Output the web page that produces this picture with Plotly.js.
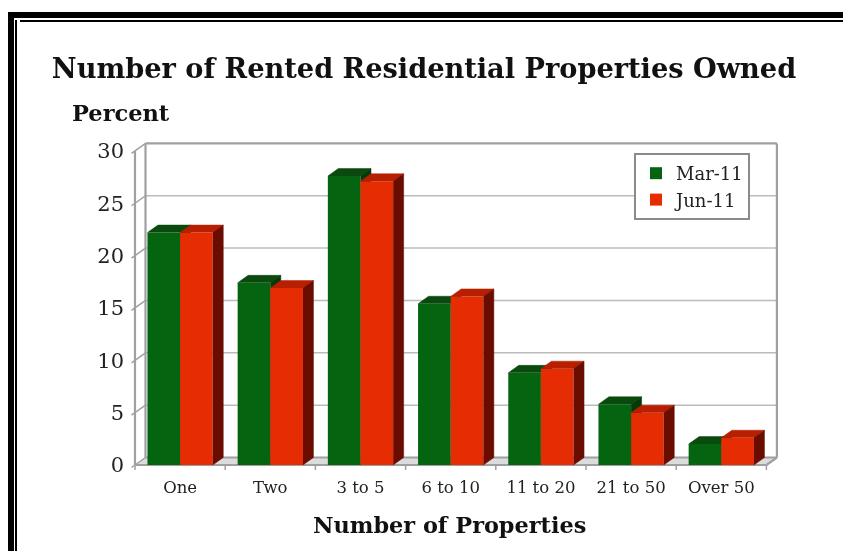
<!DOCTYPE html>
<html><head><meta charset="utf-8">
<script src="https://cdn.plot.ly/plotly-3.0.0.min.js"></script>
<style>
html,body{margin:0;padding:0;background:#fff;width:843px;height:551px;overflow:hidden}
#wrap{position:relative;width:843px;height:551px;filter:blur(0.5px)}
.f{position:absolute;background:#000}
#chart{position:absolute;left:0;top:0;width:843px;height:551px}
</style></head><body>
<div id="wrap">
<div class="f" style="left:8px;top:12px;width:835px;height:6px"></div>
<div class="f" style="left:20px;top:20px;width:823px;height:2px"></div>
<div class="f" style="left:8px;top:12px;width:6px;height:539px"></div>
<div class="f" style="left:15px;top:20px;width:2px;height:531px"></div>
<div id="chart"></div>
</div>
<script>
// Data
const categories = ["One","Two","3 to 5","6 to 10","11 to 20","21 to 50","Over 50"];
const mar11 = [22.2,17.4,27.6,15.4,8.8,5.8,2.0];
const jun11 = [22.2,16.9,27.1,16.1,9.2,5.0,2.6];
const yTicks = [0,5,10,15,20,25,30];
const idx = categories.map((_,i)=>i);

// Style / 3D projection constants
const W = 843, H = 551;
const FRONT_L = 135, FRONT_B = 465;       // page position of the front axes corner
const L = 131, R = 781, T = 140, B = 472; // plot box, with slack so that edges are not clipped
const catPx = 90.2, unitPx = 10.47;
const DX = 10.5/catPx, DY = 7.5/unitPx;
const BW = 0.362;
const xRange = [-0.5-(FRONT_L-L)/catPx, -0.5+(R-FRONT_L)/catPx];
const yRange = [-(B-FRONT_B)/unitPx, (FRONT_B-T)/unitPx];
const GRID = "#bcbcbc", WALL = "#a0a0a0";
const X0 = -0.5, X1 = 6.5;
const TX = 3.5/catPx, TY = 2.5/unitPx, TK = 5/unitPx;

function poly(rows){
  const x=[],y=[];
  rows.forEach(r=>{ r.forEach(p=>{x.push(p[0]);y.push(p[1]);}); x.push(null);y.push(null); });
  return {x,y};
}
function face(rows,color,xa,ya){
  const p=poly(rows);
  return {type:"scatter",mode:"lines",x:p.x,y:p.y,fill:"toself",fillcolor:color,
    line:{color:color,width:0.5},showlegend:false,hoverinfo:"skip",xaxis:xa,yaxis:ya};
}
function lines(segs,color,width){
  const x=[],y=[];
  segs.forEach(s=>{x.push(s[0][0],s[1][0],null);y.push(s[0][1],s[1][1],null);});
  return {type:"scatter",mode:"lines",x,y,line:{color,width},showlegend:false,hoverinfo:"skip"};
}
function series(name,vals,off,front,top,side,xa,ya){
  const tops=vals.map((v,i)=>{const a=i+off,b=a+BW;return [[a,v],[a+DX,v+DY],[b+DX,v+DY],[b,v]];});
  const sides=vals.map((v,i)=>{const b=i+off+BW;return [[b,0],[b+DX,DY],[b+DX,v+DY],[b,v]];});
  return [
    {type:"bar",name,x:idx,y:vals,width:BW,offset:off,marker:{color:front,line:{width:0}},xaxis:xa,yaxis:ya,
     hovertemplate:name+": %{y}<extra></extra>"},
    face(tops,top,xa,ya),
    face(sides,side,xa,ya)
  ];
}

const backX0 = X0+DX, backX1 = X1+DX;
const yMax = yTicks[yTicks.length-1];
const xBounds = categories.map((_,i)=>i-0.5).concat([X1]);
const traces = [
  face([[[X0,0],[backX0,DY],[backX1,DY],[X1,0]]],"#dcdcdc","x","y"),
  lines(yTicks.slice(1,-1).map(t=>[[backX0,t+DY],[backX1,t+DY]]),GRID,1.5),
  lines(yTicks.map(t=>[[X0-TX,t-TY],[backX0,t+DY]]),WALL,1.5),
  lines(xBounds.map(b=>[[b,0],[b,-TK]]),WALL,1.5),
  lines([
    [[backX0,DY],[backX0,yMax+DY]],
    [[backX0,yMax+DY],[backX1,yMax+DY]],
    [[backX1,yMax+DY],[backX1,DY]],
    [[backX0,DY],[backX1,DY]],
    [[X0,0],[X1,0]],
    [[X1,0],[backX1,DY]],
    [[X0,0],[X0,yMax]]
  ],WALL,2.2),
  ...series("Mar-11",mar11,-BW,"#05640f","#0b4a0e","#033a08","x2","y2"),
  ...series("Jun-11",jun11,0,"#e62c02","#b81f00","#6b0c00","x3","y3")
];

const serif = "'DejaVu Serif', serif";
const pw=R-L, ph=B-T;
const layout = {
  width:W,height:H,paper_bgcolor:"rgba(0,0,0,0)",plot_bgcolor:"rgba(0,0,0,0)",
  margin:{l:L,r:W-R,t:T,b:H-B,pad:0},
  barmode:"overlay",
  font:{family:serif,color:"#1a1a1a"},
  title:{text:"<b>Number of Rented Residential Properties Owned</b>",
    font:{family:serif,size:27.2,color:"#111"},x:424/W,xanchor:"center",y:1-68/H,yanchor:"middle"},
  xaxis:{type:"linear",range:xRange,tickmode:"array",tickvals:idx,ticktext:categories,
    tickfont:{family:serif,size:16.5,color:"#222"},showgrid:false,zeroline:false,showline:false,ticks:"",ticklabelstandoff:3},
  yaxis:{range:yRange,tickmode:"array",tickvals:yTicks,tickfont:{family:serif,size:21,color:"#222"},
    showgrid:false,zeroline:false,showline:false,ticks:"",ticklabelstandoff:6},
  xaxis2:{overlaying:"x",range:xRange,visible:false},
  yaxis2:{overlaying:"y",range:yRange,visible:false},
  xaxis3:{overlaying:"x",range:xRange,visible:false},
  yaxis3:{overlaying:"y",range:yRange,visible:false},
  legend:{x:(634-L)/pw,xanchor:"left",y:(B-153)/ph,yanchor:"top",bgcolor:"#fff",
    bordercolor:"#8a8a8a",borderwidth:2,font:{family:serif,size:18,color:"#222"},
    entrywidth:94,entrywidthmode:"pixels",
    itemclick:false,itemdoubleclick:false,traceorder:"normal"},
  annotations:[
    {text:"<b>Percent</b>",xref:"paper",yref:"paper",x:(70-L)/pw,xanchor:"left",y:(B-113)/ph,yanchor:"middle",
     showarrow:false,font:{family:serif,size:22.5,color:"#111"}},
    {text:"<b>Number of Properties</b>",xref:"paper",yref:"paper",x:(449.5-L)/pw,xanchor:"center",y:(B-525)/ph,yanchor:"middle",
     showarrow:false,font:{family:serif,size:22.4,color:"#111"}}
  ]
};
Plotly.newPlot("chart",traces,layout,{displayModeBar:false,staticPlot:true});
</script>
</body></html>
